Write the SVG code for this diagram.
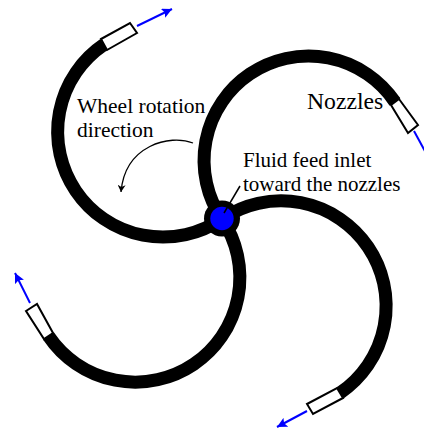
<svg xmlns="http://www.w3.org/2000/svg" width="424" height="428" viewBox="0 0 424 428">
<defs>
<style>
.arm{fill:none;stroke:#000;stroke-width:13}
.noz{fill:#fff;stroke:#000;stroke-width:2}
.jet{fill:none;stroke:#00f;stroke-width:2}
text{font-family:"Liberation Serif","Times New Roman",serif;font-size:21px;fill:#000}
</style>
<marker id="blue" markerUnits="userSpaceOnUse" markerWidth="12" markerHeight="10" refX="10" refY="5" orient="auto"><path d="M0,0L10,5L0,10L2,5Z" fill="#00f"/></marker>
<marker id="blk" markerUnits="userSpaceOnUse" markerWidth="10" markerHeight="8" refX="7" refY="4" orient="auto"><path d="M0,0L7,4L0,8L2,4Z" fill="#000"/></marker>
</defs>
<rect width="424" height="428" fill="#fff"/>
<g id="connectors">
<path class="arm" d="M222,219A100,100 0 1 1 104,44.5"/>
<path class="arm" d="M222,219A100,100 0 1 1 395,102"/>
<path class="arm" d="M222,219A100,100 0 1 1 340,393"/>
<path class="arm" d="M222,219A100,100 0 1 1 48.5,336"/>
<path class="jet" d="M137,26L172,9" marker-end="url(#blue)"/>
<path class="jet" d="M414,131L426,153"/>
<path class="jet" d="M307,411L277,427" marker-end="url(#blue)"/>
<path class="jet" d="M30,303L15,273" marker-end="url(#blue)"/>
<path d="M193,143C170,134 125,145 121,192" fill="none" stroke="#000" stroke-width="1.3" marker-end="url(#blk)"/>
</g>
<g id="nozzle-1"><path class="noz" d="M130,23L137,33L107,50L101,39Z"/></g>
<g id="nozzle-2"><path class="noz" d="M399,99L418,125L408,133L391,105Z"/></g>
<g id="nozzle-3"><path class="noz" d="M307,404L337,388L343,398L313,414Z"/></g>
<g id="nozzle-4"><path class="noz" d="M26,311L37,304L53,333L44,339Z"/></g>
<g id="hub"><circle cx="222" cy="218.5" r="18" fill="#000"/><circle cx="222" cy="218.5" r="11.7" fill="#00f"/><path d="M240,186L224,213" stroke="#000" stroke-width="1.5" fill="none"/></g>
<g id="labels">
<text x="77" y="112.7" style="font-size:21.5px">Wheel rotation</text>
<text x="77" y="136.7" style="font-size:21.5px">direction</text>
<text x="307" y="109" style="font-size:23.7px">Nozzles</text>
<text x="243" y="167">Fluid feed inlet</text>
<text x="243" y="191">toward the nozzles</text>
</g>
</svg>
